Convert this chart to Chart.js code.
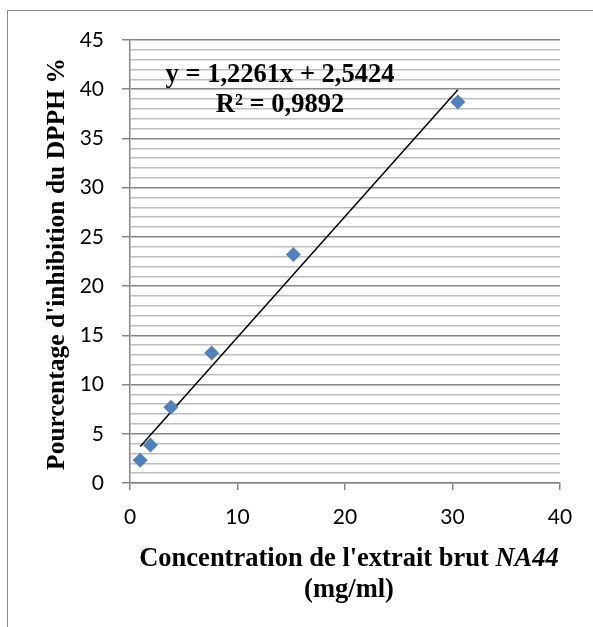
<!DOCTYPE html>
<html lang="fr">

<head>
    <meta charset="UTF-8">
    <title>Inhibition du DPPH - NA44</title>
    <script src="https://cdn.jsdelivr.net/npm/chart.js"></script>
    <style>
        body {
            margin: 0;
            padding: 0;
            background: #ffffff;
        }

        canvas {
            display: block;
        }
    </style>
</head>

<body>
    <canvas id="dpphChart" width="593" height="627"></canvas>

    <script>
        // concentration (mg/ml) vs % inhibition of DPPH
        const concentrations = [0.95, 1.9, 3.8, 7.6, 15.2, 30.5];
        const inhibition = [2.3, 3.85, 7.7, 13.2, 23.2, 38.7];

        // linear trend line shown on the chart
        const trendSlope = 1.2261;
        const trendIntercept = 2.5424;
        const trendR2 = 0.9892;

        const xTickValues = [0, 10, 20, 30, 40];
        const yTickValues = [0, 5, 10, 15, 20, 25, 30, 35, 40, 45];

        const xTitle = "Concentration de l'extrait brut ";
        const xTitleItalic = 'NA44';
        const xTitleLine2 = '(mg/ml)';
        const yTitle = "Pourcentage d'inhibition du DPPH %";

        const frNum = v => v.toFixed(4).replace('.', ',');

        const points = concentrations.map((c, i) => ({ x: c, y: inhibition[i] }));
        const xMin = Math.min(...concentrations);
        const xMax = Math.max(...concentrations);
        const trendPoints = [xMin, xMax].map(x => ({ x: x, y: trendSlope * x + trendIntercept }));

        const axisGrey = '#868686';
        const minorGrey = '#bebebe';
        const serif = '"Liberation Serif", "Times New Roman", serif';

        Chart.defaults.font.family = 'Lato, sans-serif';
        Chart.defaults.color = '#000';

        // frame, equation and axis titles
        const labelsPlugin = {
            id: 'labels',
            beforeDraw(chart) {
                const ctx = chart.ctx;
                ctx.save();
                ctx.fillStyle = '#fff';
                ctx.fillRect(0, 0, chart.width, chart.height);
                ctx.strokeStyle = '#8a8a8a';
                ctx.lineWidth = 1;
                ctx.strokeRect(7.5, 10.5, 700, 700);
                ctx.restore();
            },
            afterDraw(chart) {
                const ctx = chart.ctx;
                const area = chart.chartArea;
                ctx.save();
                ctx.fillStyle = '#000';

                // trend equation
                ctx.font = 'bold 26.5px ' + serif;
                ctx.textAlign = 'center';
                ctx.textBaseline = 'alphabetic';
                ctx.fillText('y = ' + frNum(trendSlope) + 'x + ' + frNum(trendIntercept), 280, 82);
                ctx.fillText('R² = ' + frNum(trendR2), 280, 112);

                // x title, with the italic sample name
                const cx = (area.left + area.right) / 2 + 4;
                const f = '26.5px ' + serif;
                ctx.textAlign = 'left';
                ctx.font = 'bold ' + f;
                const w1 = ctx.measureText(xTitle).width;
                ctx.font = 'italic bold ' + f;
                const w2 = ctx.measureText(xTitleItalic).width;
                const x0 = cx - (w1 + w2) / 2;
                ctx.font = 'bold ' + f;
                ctx.fillText(xTitle, x0, 566);
                ctx.font = 'italic bold ' + f;
                ctx.fillText(xTitleItalic, x0 + w1, 566);
                ctx.font = 'bold ' + f;
                ctx.textAlign = 'center';
                ctx.fillText(xTitleLine2, cx, 597);

                // y title
                ctx.font = 'bold 25.5px ' + serif;
                ctx.translate(64, 264);
                ctx.rotate(-Math.PI / 2);
                ctx.fillText(yTitle, 0, 0);
                ctx.restore();
            }
        };

        const ctx = document.getElementById('dpphChart').getContext('2d');
        const chart = new Chart(ctx, {
            data: {
                datasets: [
                    {
                        type: 'scatter',
                        label: 'NA44',
                        data: points,
                        pointStyle: 'rectRot',
                        pointRadius: 7.5,
                        pointHoverRadius: 7.5,
                        backgroundColor: '#4f81bd',
                        borderColor: '#4f81bd',
                        borderWidth: 0,
                        order: 0
                    },
                    {
                        type: 'line',
                        label: 'Linéaire',
                        data: trendPoints,
                        borderColor: '#000',
                        borderWidth: 1.5,
                        pointRadius: 0,
                        fill: false,
                        order: 1
                    }
                ]
            },
            options: {
                responsive: false,
                animation: false,
                layout: { padding: { top: 40, right: 33, left: 0, bottom: 0 } },
                plugins: {
                    legend: { display: false },
                    tooltip: { enabled: false }
                },
                scales: {
                    x: {
                        type: 'linear',
                        min: xTickValues[0],
                        max: xTickValues[xTickValues.length - 1],
                        afterFit: s => { s.height = 144; },
                        afterBuildTicks: s => { s.ticks = xTickValues.map(v => ({ value: v })); },
                        ticks: { font: { size: 21 }, padding: 15, autoSkip: false },
                        grid: {
                            drawOnChartArea: false,
                            drawTicks: true,
                            tickLength: 7,
                            tickColor: axisGrey,
                            lineWidth: 1.5
                        },
                        border: { color: axisGrey, width: 1.5 }
                    },
                    y: {
                        type: 'linear',
                        min: yTickValues[0],
                        max: yTickValues[yTickValues.length - 1],
                        afterFit: s => { s.width = 130; },
                        ticks: {
                            stepSize: 1,
                            autoSkip: false,
                            font: { size: 21 },
                            padding: 18,
                            callback: v => (yTickValues.includes(v) ? v : '')
                        },
                        grid: {
                            color: c => (yTickValues.includes(c.tick.value) ? axisGrey : minorGrey),
                            tickColor: c => (yTickValues.includes(c.tick.value) ? axisGrey : 'rgba(0,0,0,0)'),
                            lineWidth: 1.5,
                            tickLength: 8
                        },
                        border: { color: axisGrey, width: 1.5 }
                    }
                }
            },
            plugins: [labelsPlugin]
        });
    </script>
</body>

</html>
